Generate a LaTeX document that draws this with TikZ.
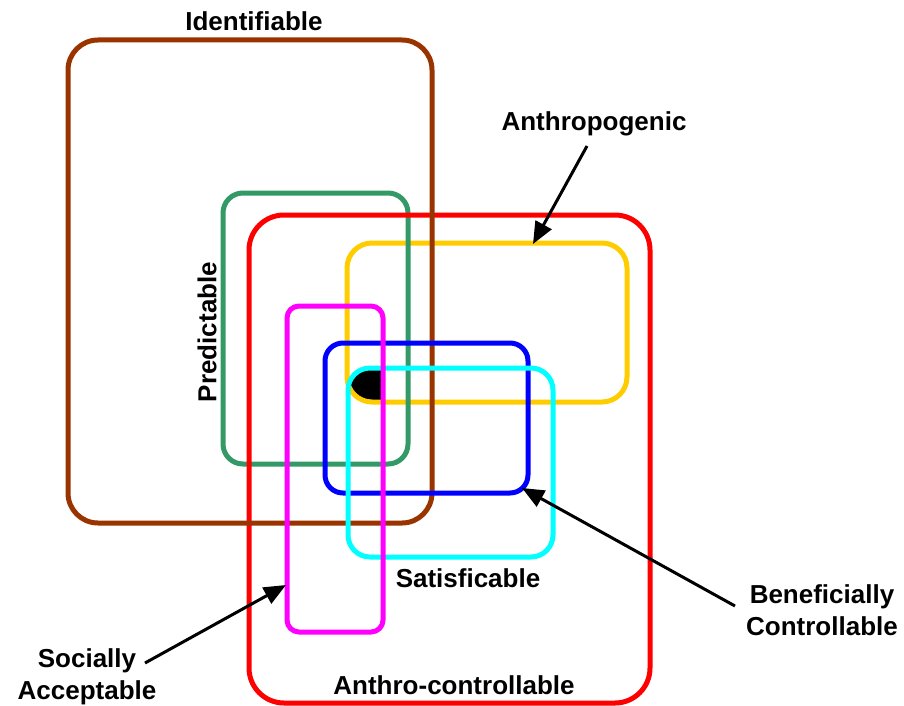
\documentclass[tikz,border=0pt]{standalone}
\usepackage{fontspec}
\setmainfont{Liberation Sans}
\usetikzlibrary{arrows.meta}
\definecolor{cbrown}{HTML}{993300}
\definecolor{cgreen}{HTML}{339966}
\definecolor{cred}{HTML}{FF0000}
\definecolor{cyellow}{HTML}{FFCC00}
\definecolor{cmagenta}{HTML}{FF00FF}
\definecolor{cblue}{HTML}{0000FF}
\definecolor{ccyan}{HTML}{00FFFF}
\begin{document}
\begin{tikzpicture}[x=1pt,y=-1pt,
  setbox/.style={draw=#1, line width=5pt, inner sep=0pt, outer sep=0pt},
  lbl/.style={font=\bfseries\fontsize{26}{32}\selectfont, align=center, inner sep=0pt},
  pointer/.style={line width=3pt, -{Triangle[length=22pt,width=18pt]}}]
\useasboundingbox (0,0) rectangle (904,706);
% black intersection
\begin{scope}
  \clip[rounded corners=22pt] (348,368) rectangle (553,557);
  \clip[rounded corners=25pt] (347,243) rectangle (627,402);
  \clip (287,306) rectangle (383,632);
  \fill[black] (300,300) rectangle (450,450);
\end{scope}
% sets
\node[setbox=cyellow, rounded corners=25pt, minimum width=280pt, minimum height=159pt] (anthro) at (487,322.5) {};
\node[setbox=cgreen, rounded corners=20pt, minimum width=185pt, minimum height=271pt] (pred) at (315.5,328.5) {};
\node[setbox=cred, rounded corners=35pt, minimum width=401pt, minimum height=488pt] (actrl) at (449.5,459) {};
\node[setbox=cbrown, rounded corners=30pt, minimum width=364pt, minimum height=483pt] (ident) at (250,281.5) {};
\node[setbox=cblue, rounded corners=18pt, minimum width=203pt, minimum height=150pt] (benef) at (426.5,418) {};
\node[setbox=ccyan, rounded corners=22pt, minimum width=205pt, minimum height=189pt] (satis) at (450.5,462.5) {};
\node[setbox=cmagenta, rounded corners=12pt, minimum width=96pt, minimum height=326pt] (social) at (335,469) {};
% labels
\node[lbl] (identl) at (254,21) {Identifiable};
\node[lbl] (anthrol) at (594,124) {Anthropogenic};
\node[lbl, rotate=90] (predl) at (207,332) {Predictable};
\node[lbl] (satisl) at (468,578) {Satisficable};
\node[lbl] (benefl) at (822,610) {Beneficially\\Controllable};
\node[lbl] (sociall) at (87,677) {Socially\\Acceptable};
\node[lbl] (actrll) at (454,685) {Anthro-controllable};
% pointers
\coordinate (a1s) at (587,146);
\coordinate (a1t) at (533,244);
\coordinate (b1s) at (735,606);
\coordinate (b1t) at (522,488);
\coordinate (s1s) at (145,663);
\coordinate (s1t) at (286,585);
\draw[pointer] (a1s) -- (a1t);
\draw[pointer] (b1s) -- (b1t);
\draw[pointer] (s1s) -- (s1t);
\end{tikzpicture}
\end{document}
